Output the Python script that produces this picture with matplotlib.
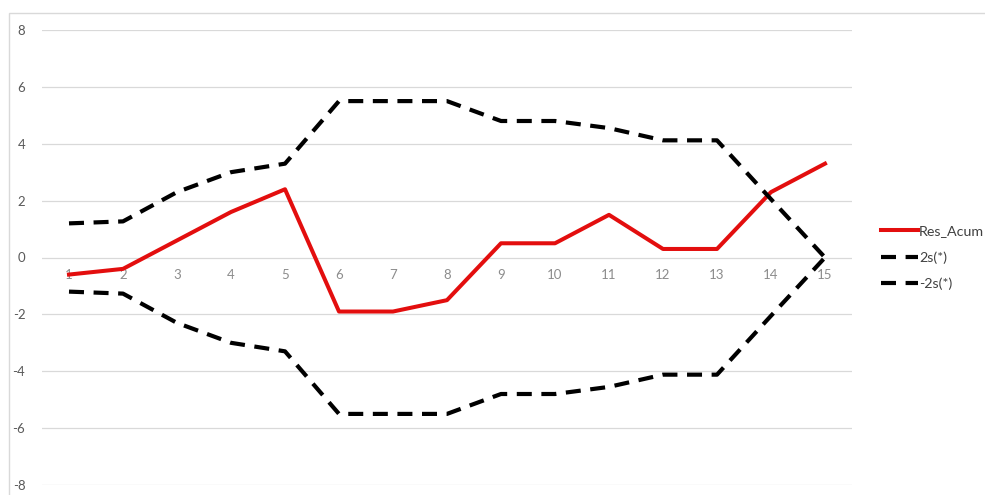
import numpy as np
import matplotlib
matplotlib.use("Agg")
import matplotlib.pyplot as plt
from matplotlib.patches import Rectangle

# Periods and the cumulative residual with its +/- 2s limits
periods = list(range(1, 16))
res_acum = [-0.6, -0.4, 0.6, 1.6, 2.4, -1.9, -1.9, -1.5, 0.5, 0.5, 1.5, 0.3, 0.3, 2.3, 3.3]
lim_sup = [1.2, 1.27, 2.3, 3.0, 3.3, 5.5, 5.5, 5.5, 4.8, 4.8, 4.55, 4.12, 4.12, 2.05, 0.0]
lim_inf = [-v for v in lim_sup]
y_ticks = [-8, -6, -4, -2, 0, 2, 4, 6, 8]


def main():
    plt.rcParams['font.family'] = ['Lato', 'DejaVu Sans']

    fig = plt.figure(figsize=(9.85, 4.95), dpi=100)
    ax = fig.add_axes([42 / 985, 1 - 485 / 495, 810 / 985, 455 / 495])

    # light frame of the chart area
    fig.patches.append(Rectangle((9 / 985, -0.1), 1.2, 1 - 13 / 495 + 0.1,
                                 transform=fig.transFigure, fill=False,
                                 edgecolor='#d9d9d9', linewidth=1.0))

    x = np.arange(len(periods))
    ax.plot(x, res_acum, color='#e30e0e', linewidth=2.9, label='Res_Acum',
            solid_joinstyle='round', zorder=3)
    ax.plot(x, lim_sup, color='black', linewidth=3.0, dashes=(3.6, 2.3),
            label='2s(*)', zorder=3)
    ax.plot(x, lim_inf, color='black', linewidth=3.0, dashes=(3.6, 2.3),
            label='-2s(*)', zorder=3)

    ax.set_xlim(-0.5, len(periods) - 0.5)
    ax.set_ylim(-8, 8)
    ax.set_yticks(y_ticks)
    ax.set_yticklabels([str(v) for v in y_ticks])
    ax.grid(axis='y', color='#d9d9d9', linewidth=0.9)
    ax.set_axisbelow(True)
    for s in ax.spines.values():
        s.set_visible(False)
    ax.tick_params(axis='y', length=0, pad=12, labelsize=9.5, labelcolor='#595959')
    ax.set_xticks([])

    # category labels sit just under the zero line
    for xi, p in zip(x, periods):
        ax.text(xi, -0.62, str(p), ha='center', va='center', fontsize=9.5,
                color='#8c8c8c', zorder=2)

    ax.legend(loc='center left', bbox_to_anchor=(1.02, 0.5), frameon=False,
              fontsize=10.3, handlelength=2.6, handletextpad=0.05,
              labelspacing=0.95, labelcolor='#404040')

    fig.savefig('out.png', dpi=100)


if __name__ == "__main__":
    main()
